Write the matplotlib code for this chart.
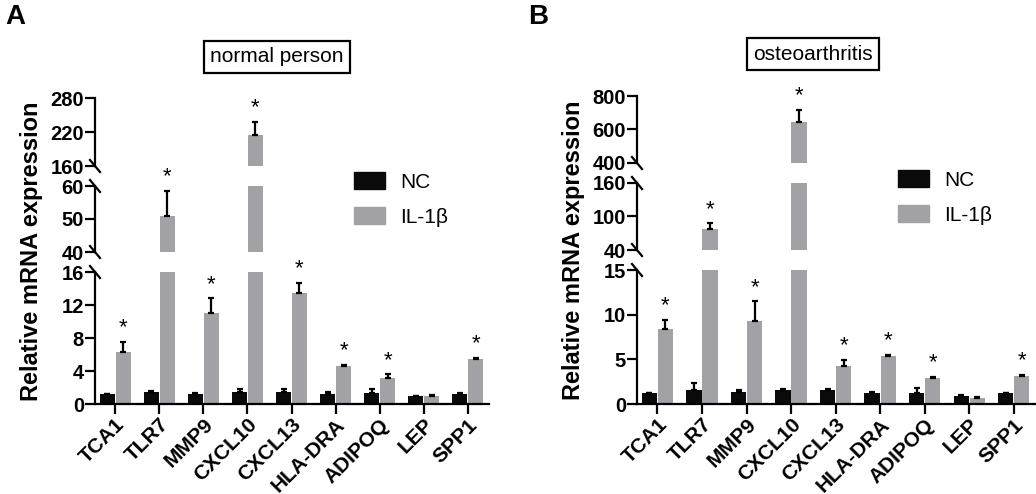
import numpy as np
import matplotlib
matplotlib.use("Agg")
import matplotlib.pyplot as plt
from matplotlib.patches import Patch

plt.rcParams['font.family'] = ['Liberation Sans', 'DejaVu Sans']

genes = ["TCA1", "TLR7", "MMP9", "CXCL10", "CXCL13", "HLA-DRA", "ADIPOQ", "LEP", "SPP1"]

# panel A: normal person
nc_a = [1.2, 1.4, 1.2, 1.5, 1.5, 1.2, 1.35, 0.95, 1.25]
nc_a_err = [0.05, 0.2, 0.1, 0.3, 0.3, 0.2, 0.5, 0.0, 0.1]
il_a = [6.3, 51.0, 11.0, 215.0, 13.4, 4.65, 3.1, 0.95, 5.5]
il_a_err = [1.2, 7.5, 1.8, 23.0, 1.3, 0.1, 0.5, 0.15, 0.1]
star_a = [1, 1, 1, 1, 1, 1, 1, 0, 1]

# panel B: osteoarthritis
nc_b = [1.2, 1.6, 1.35, 1.6, 1.6, 1.25, 1.27, 0.9, 1.2]
nc_b_err = [0.05, 0.8, 0.2, 0.1, 0.05, 0.05, 0.55, 0.1, 0.0]
il_b = [8.35, 77.0, 9.3, 645.0, 4.3, 5.4, 2.95, 0.63, 3.13]
il_b_err = [1.05, 11.0, 2.2, 74.0, 0.65, 0.1, 0.1, 0.1, 0.1]
star_b = [1, 1, 1, 1, 1, 1, 1, 0, 1]

NC_COL = "#0a0a0a"
IL_COL = "#a2a2a6"

fig = plt.figure(figsize=(10.36, 4.94), dpi=100)


def panel(x0, w, boxes, ylims, ticks, nc, nc_err, il, il_err, stars, title, title_xy, leg_xy):
    axes = []
    for (b, h), yl, tk in zip(boxes, ylims, ticks):
        ax = fig.add_axes([x0, b, w, h])
        x = np.arange(len(genes))
        ax.bar(x - 0.18, nc, 0.34, color=NC_COL)
        ax.bar(x + 0.18, il, 0.34, color=IL_COL)
        ax.errorbar(x - 0.18, nc, yerr=[np.zeros(len(nc)), nc_err], fmt="none",
                    ecolor="black", elinewidth=1.6, capsize=2.5, capthick=1.6)
        ax.errorbar(x + 0.18, il, yerr=[np.zeros(len(il)), il_err], fmt="none",
                    ecolor="black", elinewidth=1.6, capsize=2.5, capthick=1.6)
        ax.set_ylim(*yl)
        ax.set_yticks(tk)
        ax.set_xlim(-0.46, 8.48)
        for s in ["top", "right", "bottom"]:
            ax.spines[s].set_visible(False)
        ax.spines["left"].set_linewidth(1.6)
        ax.tick_params(axis="y", width=1.6, length=7, labelsize=14.5, pad=1)
        for lab in ax.get_yticklabels():
            lab.set_fontweight("bold")
        ax.tick_params(axis="x", bottom=False, labelbottom=False)
        axes.append(ax)

    bot, mid, top = axes
    bot.spines["bottom"].set_visible(True)
    bot.spines["bottom"].set_linewidth(1.6)
    bot.tick_params(axis="x", bottom=True, labelbottom=True, width=1.6, length=7, pad=1)
    bot.set_xticks(np.arange(len(genes)))
    bot.set_xticklabels(genes, rotation=45, ha="right", rotation_mode="anchor",
                        fontsize=15, fontweight="bold")

    # break marks
    for ax, ends in [(bot, [1]), (mid, [0, 1]), (top, [0])]:
        hpx = ax.get_position().height * 494
        wpx = ax.get_position().width * 1036
        dx = 5 / wpx
        dy = 6 / hpx
        for e in ends:
            ax.plot([-dx, dx], [e + dy, e - dy], transform=ax.transAxes,
                    color="black", lw=1.6, clip_on=False)

    # stars
    for i in range(len(genes)):
        if not stars[i]:
            continue
        ytop = il[i] + il_err[i]
        for ax, yl in zip(axes, ylims):
            if yl[0] <= ytop <= yl[1] or (ax is top and ytop > yl[1]):
                ax.annotate("*", (i + 0.18, ytop), xytext=(0, 2.5), textcoords="offset points",
                            ha="center", va="bottom", fontsize=16, annotation_clip=False)
                break

    bot_pos = bot.get_position()
    top_pos = top.get_position()
    fig.text(x0 - 0.061, (bot_pos.y0 + top_pos.y1) / 2, "Relative mRNA expression",
             rotation=90, ha="center", va="center", fontsize=17, fontweight="bold")

    fig.text(title_xy[0], title_xy[1], title, ha="center", va="center", fontsize=15,
             bbox=dict(boxstyle="square,pad=0.3", fc="white", ec="black", lw=1.6))

    handles = [Patch(color=NC_COL, label="NC"), Patch(color=IL_COL, label="IL-1β")]
    fig.legend(handles=handles, loc="upper left", bbox_to_anchor=leg_xy, frameon=False,
               fontsize=15, handlelength=1.5, handleheight=0.85, labelspacing=0.75,
               handletextpad=0.7, borderpad=0, borderaxespad=0)


panel(95 / 1036, 394 / 1036,
      [((494 - 404) / 494, 132 / 494), ((494 - 252) / 494, 66 / 494), ((494 - 166) / 494, 68 / 494)],
      [(0, 16), (40, 60), (160, 280)],
      [[0, 4, 8, 12, 16], [40, 50, 60], [160, 220, 280]],
      nc_a, nc_a_err, il_a, il_a_err, star_a, "normal person",
      (277 / 1036, 1 - 57 / 494), (354 / 1036, 1 - 172 / 494))

panel(637 / 1036, 398 / 1036,
      [((494 - 404) / 494, 134 / 494), ((494 - 250) / 494, 67 / 494), ((494 - 163) / 494, 67 / 494)],
      [(0, 15), (40, 160), (400, 800)],
      [[0, 5, 10, 15], [40, 100, 160], [400, 600, 800]],
      nc_b, nc_b_err, il_b, il_b_err, star_b, "osteoarthritis",
      (813 / 1036, 1 - 54 / 494), (898 / 1036, 1 - 170 / 494))

fig.text(5 / 1036, 1 - 17 / 494, "A", fontsize=20, fontweight="bold", va="center")
fig.text(528 / 1036, 1 - 17 / 494, "B", fontsize=20, fontweight="bold", va="center")

fig.savefig("out.png", dpi=100)
